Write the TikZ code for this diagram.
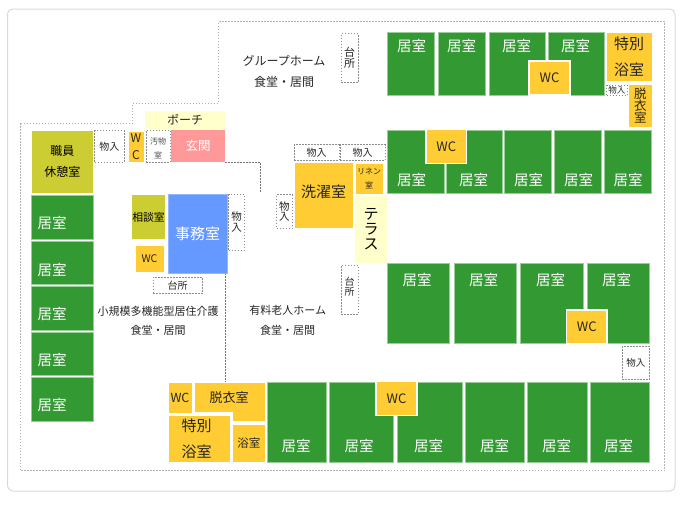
\documentclass[tikz,border=0pt]{standalone}
\usepackage{fontspec}
\setmainfont{Noto Sans CJK JP}

\definecolor{roomgreen}{HTML}{339933}
\definecolor{roomedge}{HTML}{99CC99}
\definecolor{wetorange}{HTML}{FFCC33}
\definecolor{staffolive}{HTML}{CCCC33}
\definecolor{officeblue}{HTML}{6699FF}
\definecolor{entrypink}{HTML}{FF9999}
\definecolor{palecream}{HTML}{FFFFCC}

\tikzset{fs/.style 2 args={font=\fontsize{#1}{#2}\selectfont},
         boxsize/.style 2 args={minimum width=#1, minimum height=#2}}

\tikzstyle{element}=[rectangle, inner sep=0, outer sep=0, align=center, text=black!85]
\tikzstyle{room}=[element, fill=roomgreen, draw=roomedge, line width=0.5]
\tikzstyle{roomtext}=[inner sep=0, text=white, fs={14.5}{15}]
\tikzstyle{wet}=[element, fill=wetorange, draw=white, line width=0.5]
\tikzstyle{wc}=[element, fill=wetorange, draw=white, line width=1.5, fs={13}{13}]
\tikzstyle{store}=[element, draw=black!45, line width=0.8, dash pattern=on 1.5pt off 1.5pt, fill=white]
\tikzstyle{caption}=[inner sep=0, align=center, text=black!85]
\tikzstyle{wall}=[black!55, line width=0.8, dash pattern=on 1.5pt off 1.5pt]
\tikzstyle{boundary}=[black!30, line width=0.8, dash pattern=on 1.5pt off 1.5pt]

\begin{document}
\begin{tikzpicture}[x=1pt, y=-1pt]

\useasboundingbox (0,0) rectangle (680,517);

%%%%%%%%%%%%%%%%%%
%%%%%%%%%%%%%%%%%%
\draw [black!15, line width=1, rounded corners=5] (7.5,9) rectangle (675,491);

\draw [boundary] (20.5,123) -- (132.5,123) -- (132.5,103) -- (218.5,103) -- (218.5,21.5) -- (664.5,21.5) -- (664.5,470.5) -- (20.5,470.5) -- cycle;

%%%%%%%%%%%%%%%%%%
\coordinate (wall_top_a) at (225,162);

\coordinate (wall_top_b) at (260,162);

\coordinate (wall_top_c) at (260,193);

\coordinate (wall_low_a) at (225,273);

\coordinate (wall_low_b) at (225,382);

\draw [wall] (wall_top_a) -- (wall_top_b) -- (wall_top_c);

\draw [wall] (wall_low_a) -- (wall_low_b);

%%%%%%%%%%%%%%%%%%
\node (GH_Room1) at (410.75,63.75) [room, boxsize={47.5}{63.5}] {};

\node (GH_Room2) at (462,63.75) [room, boxsize={47}{63.5}] {};

\node (GH_Room3) at (517,63.75) [room, boxsize={56}{63.5}] {};

\node (GH_Room4) at (576,63.75) [room, boxsize={56}{63.5}] {};

\node (GH_WC1) at (549.5,78.1) [wc, boxsize={40.6}{33.8}] {WC};

\node (GH_Bath) at (629,56.75) [wet, boxsize={46}{49.5}, fs={15}{26}] {特別\\浴室};

\node (GH_Store1) at (616.75,90.25) [store, boxsize={20.5}{10.5}, fs={8.5}{9}] {物入};

\node (GH_Dress) at (640.25,105.5) [wet, boxsize={23.5}{43}, fs={12.5}{11.7}] {脱\\衣\\室};

\node (GH_Kitchen) at (349.5,58) [store, boxsize={17}{49}, fs={11}{11}] {台\\所};

\node (GH_Hall) at (284,60.5) [caption, fs={12}{12}] {グループホーム};

\node (GH_Dining) at (284,81.5) [caption, fs={12}{12}] {食堂・居間};

%%%%%%%%%%%%%%%%%%
\node (Row2_Room1) at (415.5,161.75) [room, boxsize={57}{63.5}] {};

\node (Row2_Room2) at (474,161.75) [room, boxsize={56}{63.5}] {};

\node (Row2_Room3) at (527.75,161.75) [room, boxsize={47.5}{63.5}] {};

\node (Row2_Room4) at (578,161.75) [room, boxsize={47}{63.5}] {};

\node (Row2_Room5) at (627.75,161.75) [room, boxsize={47.5}{63.5}] {};

\node (Row2_WC) at (446.25,146.5) [wc, boxsize={40.5}{34}] {WC};

%%%%%%%%%%%%%%%%%%
\node (Store_Top1) at (316.5,152.25) [store, boxsize={45}{15.5}, fs={10}{10}] {物入};

\node (Store_Top2) at (362.5,152.25) [store, boxsize={45}{15.5}, fs={10}{10}] {物入};

\node (Laundry) at (323.5,195) [wet, boxsize={59}{66}] {};

\node (Laundry_Text) at (323.5,192) [caption, fs={15}{15}] {洗濯室};

\node (Store_Laundry) at (284.25,211.5) [store, boxsize={15.5}{34}, fs={10.5}{10.5}] {物\\入};

\node (Linen) at (369,178.5) [wet, boxsize={28}{31}, fs={8}{14.5}] {リネン\\室};

\node (Terrace) at (371,229.5) [element, fill=palecream, boxsize={32}{67}, fs={15}{15}, text=black] {テ\\ラ\\ス};

\node (Kitchen_Mid) at (349.5,289.5) [store, boxsize={17}{49}] {};

\node (Kitchen_Mid_Text) at (349.5,287) [caption, fs={10}{10}] {台\\所};

%%%%%%%%%%%%%%%%%%
\node (Staff) at (62.25,161.5) [element, fill=staffolive, draw=white, line width=0.5, boxsize={61.5}{63}, fs={12}{21}, text=black] {職員\\休憩室};

\node (Store_Staff) at (109.25,146.25) [store, boxsize={29.5}{31.5}, fs={10}{10}] {物入};

\node (WC_Vertical) at (136,146.75) [wet, boxsize={16}{31.5}, fs={12}{17.5}] {W\\C};

\node (Soiled) at (158,146) [store, boxsize={24}{32}] {};

\node (Soiled_Text) at (158,148.3) [caption, fs={8}{14.7}, text=black!70] {汚物\\室};

\node (Entrance) at (198,146) [element, fill=entrypink, boxsize={54}{32}, fs={12.5}{12.5}, text=white] {玄関};

\node (Porch) at (185,119.75) [element, fill=palecream, boxsize={80}{18.5}, fs={12}{12}] {ポーチ};

\node (Consult) at (148.5,217) [element, fill=staffolive, boxsize={33}{44}, fs={10.8}{11}, text=black] {相談室};

\node (Office) at (197.5,233.75) [element, fill=officeblue, draw=officeblue!70!white, line width=0.5, boxsize={59}{78.5}, fs={15}{15}, text=white] {事務室};

\node (Store_Office) at (236.5,222.25) [store, boxsize={16}{55.5}, fs={10.5}{11}] {物\\入};

\node (Office_WC) at (149.5,258.75) [wet, boxsize={29}{26.5}, fs={10.5}{10.5}] {WC};

\node (Office_Kitchen) at (177.5,285.25) [store, boxsize={49}{16.5}, fs={10}{10}] {台所};

\node (Small_Hall) at (158,311) [caption, fs={11}{11}] {小規模多機能型居住介護};

\node (Small_Dining) at (158,330.5) [caption, fs={11}{11}] {食堂・居間};

\node (Pay_Hall) at (287.7,310.5) [caption, fs={11}{11}] {有料老人ホーム};

\node (Pay_Dining) at (287.7,330) [caption, fs={11}{11}] {食堂・居間};

%%%%%%%%%%%%%%%%%%
\node (Left_Room1) at (62.5,217.25) [room, boxsize={62}{43.5}] {};

\node (Left_Room2) at (62.5,262.5) [room, boxsize={62}{43}] {};

\node (Left_Room3) at (62.5,308.25) [room, boxsize={62}{43.5}] {};

\node (Left_Room4) at (62.5,353.75) [room, boxsize={62}{43.5}] {};

\node (Left_Room5) at (62.5,399.5) [room, boxsize={62}{44}] {};

%%%%%%%%%%%%%%%%%%
\node (Row3_Room1) at (418.25,303.25) [room, boxsize={62.5}{80.5}] {};

\node (Row3_Room2) at (485.25,303.25) [room, boxsize={62.5}{80.5}] {};

\node (Row3_Room3) at (551.75,303.25) [room, boxsize={62.5}{80.5}] {};

\node (Row3_Room4) at (618,303.25) [room, boxsize={62}{80.5}] {};

\node (Row3_WC) at (586.75,327) [wc, boxsize={40.5}{34}] {WC};

\node (Store_Low) at (635.75,362.75) [store, boxsize={27.5}{32.5}, fs={9.5}{10}] {物入};

%%%%%%%%%%%%%%%%%%
\node (Low_WC1) at (180,397.5) [wet, boxsize={24}{31}, fs={12.5}{12.5}] {WC};

\node (Low_Bath) at (199,438.75) [wet, boxsize={62}{47.5}] {};

\node (Low_Bath_Text) at (196.7,438.3) [caption, fs={15}{26}] {特別\\浴室};

\node (Low_Tub) at (248.75,443.25) [wet, boxsize={33.5}{38.5}, fs={11.5}{11.5}] {浴室};

\draw [fill=wetorange, draw=white, line width=0.5] (194,382) -- (265.5,382) -- (265.5,421.5) -- (232,421.5) -- (232,412.5) -- (194,412.5) -- cycle;

\node (Low_Dress) at (229,397.7) [caption, fs={13}{13}] {脱衣室};

\node (Row4_Room1) at (296.5,422.25) [room, boxsize={59}{80.5}] {};

\node (Row4_Room2) at (361.25,422.25) [room, boxsize={64.5}{80.5}] {};

\node (Row4_Room3) at (430,422.25) [room, boxsize={65}{80.5}] {};

\node (Row4_Room4) at (494.5,422.25) [room, boxsize={59}{80.5}] {};

\node (Row4_Room5) at (557.25,422.25) [room, boxsize={59.5}{80.5}] {};

\node (Row4_Room6) at (619.5,422.25) [room, boxsize={59}{80.5}] {};

\node (Row4_WC) at (396.5,398.5) [wc, boxsize={41}{34}] {WC};

%%%%%%%%%%%%%%%%%%
%%%%%%%%%%%%%%%%%%
\node (GH_Text1) at (411.7,45.7) [roomtext] {居室};

\node (GH_Text2) at (461.7,45.7) [roomtext] {居室};

\node (GH_Text3) at (516.7,45.7) [roomtext] {居室};

\node (GH_Text4) at (575.7,45.7) [roomtext] {居室};

%%%%%%%%%%%%%%%%%%
\node (Row2_Text1) at (411.7,180) [roomtext] {居室};

\node (Row2_Text2) at (473.7,180) [roomtext] {居室};

\node (Row2_Text3) at (528.7,180) [roomtext] {居室};

\node (Row2_Text4) at (578.7,180) [roomtext] {居室};

\node (Row2_Text5) at (628,180) [roomtext] {居室};

%%%%%%%%%%%%%%%%%%
\node (Left_Text1) at (52,223) [roomtext] {居室};

\node (Left_Text2) at (52,269.7) [roomtext] {居室};

\node (Left_Text3) at (52,314.3) [roomtext] {居室};

\node (Left_Text4) at (52,360.3) [roomtext] {居室};

\node (Left_Text5) at (52,405.3) [roomtext] {居室};

%%%%%%%%%%%%%%%%%%
\node (Row3_Text1) at (417,279.7) [roomtext] {居室};

\node (Row3_Text2) at (483.7,279.7) [roomtext] {居室};

\node (Row3_Text3) at (550.7,279.7) [roomtext] {居室};

\node (Row3_Text4) at (616.7,279.7) [roomtext] {居室};

%%%%%%%%%%%%%%%%%%
\node (Row4_Text1) at (296,446.3) [roomtext] {居室};

\node (Row4_Text2) at (359,446.3) [roomtext] {居室};

\node (Row4_Text3) at (428.7,446.3) [roomtext] {居室};

\node (Row4_Text4) at (494.7,446.3) [roomtext] {居室};

\node (Row4_Text5) at (556.7,446.3) [roomtext] {居室};

\node (Row4_Text6) at (618.7,446.3) [roomtext] {居室};

\end{tikzpicture}
\end{document}
